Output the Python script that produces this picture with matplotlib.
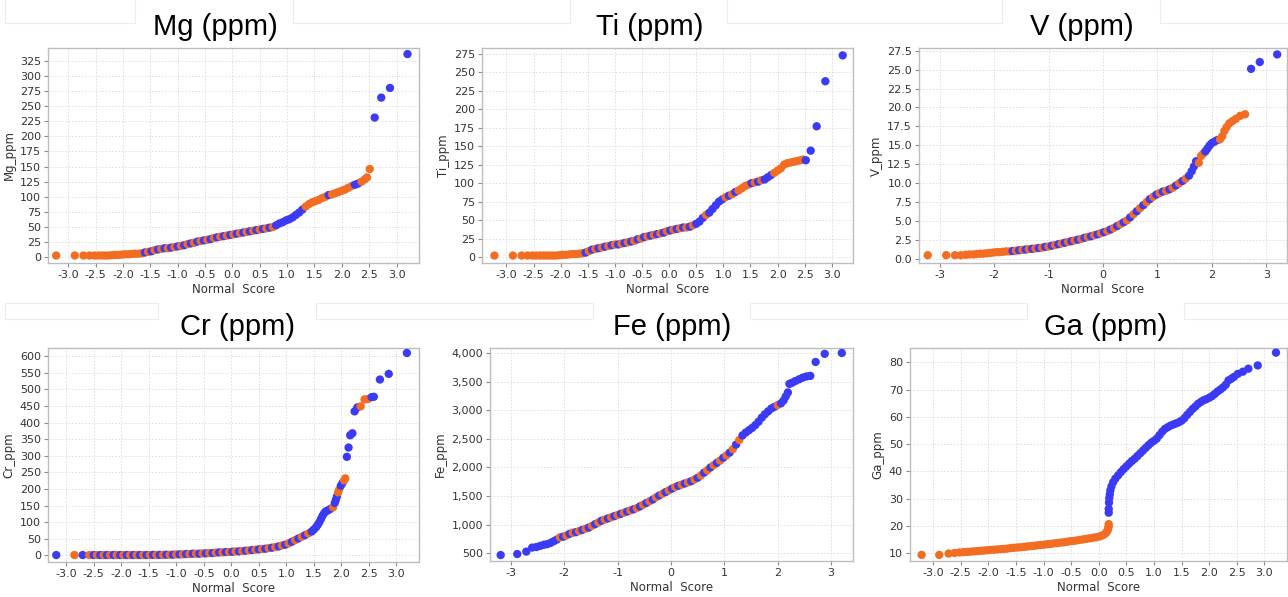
import matplotlib.pyplot as plt
from matplotlib.ticker import MultipleLocator, FormatStrFormatter, StrMethodFormatter
from matplotlib.patches import Rectangle

plt.rcParams['axes.unicode_minus'] = False
plt.rcParams['font.family'] = 'DejaVu Sans'

ORANGE = '#f26d21'
BLUE = '#3b3bf5'

# ---------- data (normal score, ppm, group o/b) ----------
mg_ns = [-3.22, -2.88, -2.72, -2.61, -2.52, -2.45, -2.38, -2.32, -2.26, -2.20,
         -2.14, -2.08, -2.02, -1.96, -1.90, -1.84, -1.78, -1.72, -1.66, -1.60,
         -1.54, -1.48, -1.42, -1.36, -1.30, -1.24, -1.18, -1.12, -1.06, -1.00,
         -0.94, -0.88, -0.82, -0.76, -0.70, -0.64, -0.58, -0.52, -0.46, -0.40,
         -0.34, -0.28, -0.22, -0.16, -0.10, -0.04, 0.02, 0.08, 0.14, 0.20,
         0.26, 0.32, 0.38, 0.44, 0.50, 0.56, 0.62, 0.68, 0.74, 0.80,
         0.86, 0.92, 0.98, 1.04, 1.10, 1.16, 1.22, 1.28, 1.34, 1.40,
         1.46, 1.52, 1.58, 1.64, 1.70, 1.76, 1.82, 1.88, 1.94, 2.00,
         2.06, 2.12, 2.18, 2.24, 2.30, 2.36, 2.42, 2.46, 2.51, 2.60,
         2.72, 2.88, 3.20]
mg_val = [3, 3, 3, 3, 3, 3, 3, 3, 3, 3.5,
          4, 4, 4.5, 5, 5, 5.5, 6, 6, 6.5, 8,
          9, 10, 12, 13, 14, 15, 15, 16, 17, 18,
          19, 20, 22, 23, 24, 26, 27, 28, 29, 30,
          32, 33, 34, 35, 36, 37, 38, 39, 40, 41,
          42, 43, 44, 45, 46, 47, 48, 49, 50, 53,
          56, 58, 61, 63, 66, 70, 74, 79, 84, 88,
          91, 93, 95, 98, 100, 103, 104, 106, 108, 110,
          112, 115, 118, 120, 122, 125, 129, 132, 146, 231,
          264, 280, 336]
mg_grp = "o" * 19 + "bo" * 20 + "b" * 9 + "o" * 7 + "b" + "o" * 7 + "bb" + "oooo" + "bbbb"

ti_ns = [-3.22, -2.88, -2.72, -2.61, -2.52, -2.45, -2.38, -2.32, -2.26, -2.20,
         -2.14, -2.08, -2.02, -1.96, -1.90, -1.84, -1.78, -1.72, -1.66,
         -1.60, -1.54, -1.48, -1.42, -1.36, -1.30, -1.24, -1.18, -1.12, -1.06,
         -1.00, -0.94, -0.88, -0.82, -0.76, -0.70, -0.64, -0.58, -0.52, -0.46,
         -0.40, -0.34, -0.28, -0.22, -0.16, -0.10, -0.04, 0.02, 0.08, 0.14,
         0.20, 0.26, 0.32, 0.38, 0.44, 0.50,
         0.56, 0.62, 0.68, 0.74, 0.80, 0.86, 0.92, 0.98,
         1.04, 1.10, 1.16, 1.22, 1.28, 1.34, 1.40, 1.46,
         1.52, 1.58, 1.64, 1.70, 1.76, 1.82, 1.88, 1.94,
         2.00, 2.06, 2.12, 2.18, 2.24, 2.30, 2.36, 2.42,
         2.47, 2.52, 2.61, 2.72, 2.88, 3.20]
ti_val = [2, 2, 2, 2, 2, 2, 2, 2, 2, 2,
          2, 2, 2.5, 3, 3, 3.5, 4, 4, 4.5,
          5, 6, 8, 10, 11, 12, 13, 14, 15, 16,
          17, 17, 18, 19, 20, 21, 22, 24, 25, 27,
          28, 29, 30, 31, 32, 33, 35, 36, 37, 38,
          39, 40, 40, 41, 43, 45,
          48, 53, 57, 60, 65, 70, 75, 78,
          81, 83, 85, 88, 90, 93, 96, 98,
          100, 101, 102, 104, 105, 108, 111, 114,
          117, 120, 125, 127, 128, 129, 130, 131,
          132, 131, 144, 177, 238, 273]
ti_grp = "o" * 19 + "ob" * 18 + "bbobbbbb" + "oboboooo" + "bobobbbo" + "o" * 8 + "obbbbb"

v_ns = [-3.22, -2.88, -2.72, -2.61, -2.52, -2.45, -2.38, -2.32, -2.26, -2.20,
        -2.14, -2.08, -2.02, -1.96, -1.90, -1.84, -1.78, -1.72,
        -1.66, -1.60, -1.54, -1.48, -1.42, -1.36, -1.30, -1.24, -1.18, -1.12,
        -1.06, -1.00, -0.94, -0.88, -0.82, -0.76, -0.70, -0.64, -0.58, -0.52,
        -0.46, -0.40, -0.34, -0.28, -0.22, -0.16, -0.10, -0.04, 0.02, 0.08,
        0.14, 0.20, 0.26, 0.32, 0.38, 0.44, 0.50, 0.56, 0.62, 0.68,
        0.74, 0.80, 0.86, 0.92, 0.98, 1.04, 1.10, 1.16, 1.22, 1.28,
        1.34, 1.40, 1.46, 1.52, 1.58,
        1.63, 1.67, 1.71, 1.76, 1.80, 1.84, 1.88, 1.92, 1.96, 2.00,
        2.05, 2.10, 2.15, 2.19, 2.23, 2.27, 2.32, 2.38, 2.44, 2.52,
        2.61, 2.72, 2.88, 3.20]
v_val = [0.5, 0.5, 0.5, 0.5, 0.55, 0.6, 0.6, 0.65, 0.7, 0.7,
         0.75, 0.8, 0.85, 0.9, 0.9, 0.95, 1.0, 1.0,
         1.05, 1.1, 1.15, 1.2, 1.25, 1.3, 1.35, 1.4, 1.45, 1.5,
         1.6, 1.65, 1.75, 1.85, 1.95, 2.05, 2.15, 2.25, 2.35, 2.45,
         2.55, 2.65, 2.8, 2.9, 3.0, 3.15, 3.25, 3.4, 3.55, 3.7,
         3.9, 4.1, 4.35, 4.6, 4.85, 5.1, 5.5, 5.9, 6.3, 6.7,
         7.1, 7.5, 7.9, 8.2, 8.5, 8.7, 8.9, 9.0, 9.2, 9.4,
         9.7, 10.0, 10.3, 10.6, 11.0,
         11.6, 12.2, 12.9, 12.7, 13.6, 13.9, 14.2, 14.6, 15.0, 15.3,
         15.5, 15.7, 15.8, 16.2, 16.9, 17.4, 17.9, 18.2, 18.5, 18.9,
         19.1, 25.1, 26.0, 27.0]
v_grp = "o" * 18 + "bo" * 27 + "b" + "bbb" + "ooo" + "b" * 6 + "o" * 9 + "bbb"

cr_ns = [-3.18, -2.85, -2.70, -2.58,
         -2.50, -2.44, -2.38, -2.32, -2.26, -2.20, -2.14, -2.08, -2.02, -1.96,
         -1.90, -1.84, -1.78, -1.72, -1.66, -1.60, -1.54, -1.48, -1.42, -1.36,
         -1.30, -1.24, -1.18, -1.12, -1.06, -1.00, -0.94, -0.88, -0.82, -0.76,
         -0.70, -0.64, -0.58, -0.52, -0.46, -0.40, -0.34, -0.28, -0.22, -0.16,
         -0.10, -0.04, 0.02, 0.08, 0.14, 0.20, 0.26, 0.32, 0.38, 0.44,
         0.50, 0.56, 0.62, 0.68, 0.74, 0.80, 0.86, 0.92, 0.98, 1.04,
         1.10, 1.16, 1.22, 1.28, 1.34, 1.40, 1.46,
         1.50, 1.54, 1.57, 1.60, 1.63, 1.66, 1.69, 1.72, 1.76, 1.80,
         1.85, 1.88, 1.90, 1.92, 1.94, 1.96, 1.99, 2.02, 2.05, 2.07,
         2.10, 2.13, 2.16, 2.20, 2.24, 2.29, 2.35, 2.42, 2.48, 2.55,
         2.59, 2.70, 2.86, 3.19]
cr_val = [1, 1, 1, 1,
          1, 1, 1, 1, 1, 1, 1, 1, 1, 1,
          1, 1, 1, 1, 1, 1, 1, 1, 1.5, 1.5,
          1.5, 1.5, 2, 2, 2, 3, 3, 3, 4, 4,
          5, 5, 5, 6, 6, 7, 7, 8, 9, 9,
          10, 10, 11, 12, 12, 13, 14, 15, 16, 17,
          18, 19, 20, 22, 23, 25, 27, 30, 32, 36,
          41, 46, 51, 56, 61, 66, 72,
          78, 85, 92, 100, 110, 120, 128, 133, 136, 140,
          145, 158, 168, 178, 190, 198, 210, 218, 226, 232,
          297, 325, 362, 368, 434, 446, 449, 470, 471, 477,
          478, 530, 547, 610]
cr_grp = "bobo" + "bo" * 33 + "b" + "b" * 10 + "obbboobboo" + "bbbbbbooob" + "bbbb"

fe_ns = [-3.19, -2.88, -2.71, -2.60, -2.52, -2.45, -2.38, -2.32, -2.26, -2.20, -2.14,
         -2.08, -2.02, -1.96, -1.90, -1.84, -1.78, -1.72, -1.66, -1.60, -1.54,
         -1.48, -1.42, -1.36, -1.30, -1.24, -1.18, -1.12, -1.06, -1.00, -0.94,
         -0.88, -0.82, -0.76, -0.70, -0.64, -0.58, -0.52, -0.46, -0.40, -0.34,
         -0.28, -0.22, -0.16, -0.10, -0.04, 0.02, 0.08, 0.14, 0.20, 0.26,
         0.32, 0.38, 0.44, 0.50, 0.56, 0.62, 0.68, 0.74, 0.80, 0.86,
         0.92, 0.98, 1.04, 1.10, 1.16, 1.22, 1.28, 1.34,
         1.40, 1.46, 1.52, 1.58, 1.64, 1.70, 1.76, 1.82, 1.88, 1.94,
         2.00, 2.06, 2.11, 2.15, 2.19, 2.22, 2.27, 2.33, 2.40, 2.47,
         2.54, 2.61, 2.71, 2.88, 3.20]
fe_val = [470, 488, 530, 600, 610, 630, 650, 660, 680, 710, 740,
          780, 790, 810, 840, 860, 870, 890, 910, 930, 950,
          980, 1010, 1040, 1070, 1090, 1110, 1130, 1150, 1170, 1190,
          1210, 1230, 1250, 1270, 1290, 1320, 1350, 1380, 1410, 1440,
          1480, 1510, 1540, 1570, 1600, 1630, 1660, 1680, 1700, 1720,
          1740, 1760, 1790, 1820, 1860, 1910, 1950, 2000, 2040, 2080,
          2120, 2170, 2210, 2260, 2320, 2400, 2480, 2560,
          2610, 2650, 2690, 2740, 2800, 2870, 2930, 2980, 3030, 3060,
          3090, 3120, 3170, 3240, 3310, 3460, 3480, 3510, 3540, 3570,
          3590, 3600, 3843, 3985, 4000]
fe_grp = "b" * 11 + "ob" * 29 + "b" * 10 + "o" + "b" * 14

ga_ns = [-3.21, -2.89, -2.72, -2.61, -2.52, -2.45, -2.38, -2.32, -2.26, -2.20,
         -2.14, -2.08, -2.02, -1.96, -1.90, -1.84, -1.78, -1.72, -1.66, -1.60,
         -1.54, -1.48, -1.42, -1.36, -1.30, -1.24, -1.18, -1.12, -1.06, -1.00,
         -0.94, -0.88, -0.82, -0.76, -0.70, -0.64, -0.58, -0.52, -0.46, -0.40,
         -0.34, -0.28, -0.22, -0.16, -0.10, -0.04, 0.02, 0.07, 0.11, 0.14,
         0.16, 0.17, 0.18, 0.18,
         0.18, 0.18, 0.185, 0.19, 0.20, 0.21, 0.23, 0.26, 0.30, 0.35,
         0.40, 0.45, 0.50, 0.55, 0.60, 0.65, 0.70, 0.75, 0.80, 0.85,
         0.90, 0.95, 1.00, 1.05, 1.10, 1.15, 1.20, 1.25, 1.30, 1.35,
         1.40, 1.45, 1.50, 1.55, 1.60, 1.65, 1.70, 1.75, 1.80, 1.85,
         1.90, 1.95, 2.00, 2.05, 2.10, 2.15, 2.20, 2.25, 2.30, 2.35,
         2.40, 2.45, 2.52, 2.61, 2.71, 2.88, 3.21]
ga_val = [9.3, 9.3, 9.8, 10.0, 10.2, 10.3, 10.4, 10.5, 10.6, 10.7,
          10.8, 10.9, 11.0, 11.1, 11.2, 11.3, 11.4, 11.5, 11.6, 11.8,
          11.9, 12.0, 12.1, 12.2, 12.4, 12.5, 12.6, 12.8, 12.9, 13.0,
          13.2, 13.3, 13.5, 13.6, 13.8, 13.9, 14.1, 14.3, 14.4, 14.6,
          14.8, 15.0, 15.2, 15.4, 15.6, 15.8, 16.1, 16.5, 17.0, 17.6,
          18.3, 19.0, 19.8, 20.6,
          24.8, 26.2, 28.5, 30.2, 31.5, 33.0, 34.5, 36.0, 37.3, 38.5,
          39.7, 40.8, 41.8, 42.8, 43.8, 44.6, 45.6, 46.6, 47.6, 48.6,
          49.6, 50.5, 51.2, 52.0, 53.3, 54.6, 55.6, 56.2, 56.8, 57.2,
          57.6, 58.0, 58.6, 59.5, 60.7, 61.8, 62.9, 63.8, 64.8, 65.5,
          66.1, 66.5, 67.0, 67.6, 68.4, 69.3, 70.0, 70.8, 71.8, 73.4,
          74.0, 74.7, 75.8, 76.6, 77.7, 78.9, 83.6]
ga_grp = "o" * 54 + "b" * 57

# ---------- layout (pixel boxes of the original screenshot) ----------
W, H = 1288, 597

panels = [
    # label, x, y, groups, axes box (l, t, r, b), xlim, ylim, xstep, xfmt, ystep, yfmt, title centre
    ("Mg", mg_ns, mg_val, mg_grp, (48, 48, 419, 263), (-3.37, 3.41), (-9.4, 346), 0.5, '%.1f', 25, '{x:.0f}', (215, 27)),
    ("Ti", ti_ns, ti_val, ti_grp, (482, 48, 853, 263), (-3.45, 3.39), (-8.1, 283), 0.5, '%.1f', 25, '{x:.0f}', (650, 27)),
    ("V", v_ns, v_val, v_grp, (919, 48, 1287, 263), (-3.38, 3.38), (-0.53, 27.85), 1, '%.0f', 2.5, '{x:.1f}', (1082, 27)),
    ("Cr", cr_ns, cr_val, cr_grp, (48, 348, 419, 562), (-3.33, 3.41), (-20, 625), 0.5, '%.1f', 50, '{x:.0f}', (237, 327)),
    ("Fe", fe_ns, fe_val, fe_grp, (490, 348, 853, 561), (-3.39, 3.41), (366, 4087), 1, '%.0f', 500, '{x:,.0f}', (672, 327)),
    ("Ga", ga_ns, ga_val, ga_grp, (910, 348, 1287, 561), (-3.42, 3.41), (7.05, 85.3), 0.5, '%.1f', 10, '{x:.0f}', (1106, 327)),
]

fig = plt.figure(figsize=(W / 100, H / 100), dpi=100)
fig.patch.set_facecolor('white')

# faint slide text-box outlines around the titles
for l, t, r, b in [(5, -5, 135, 23), (293, -5, 570, 23), (727, -5, 1002, 23), (1160, -5, 1295, 23),
                   (5, 303, 158, 319), (316, 303, 593, 319), (750, 303, 1027, 319), (1184, 303, 1295, 319)]:
    fig.patches.append(Rectangle((l / W, 1 - b / H), (r - l) / W, (b - t) / H,
                                 transform=fig.transFigure, fill=False,
                                 edgecolor='#ececec', linewidth=0.8))

for (name, xs, ys, grp, box, xlim, ylim, xstep, xfmt, ystep, yfmt, tpos) in panels:
    l, t, r, b = box
    ax = fig.add_axes([l / W, 1 - b / H, (r - l) / W, (b - t) / H])
    colors = [ORANGE if g == 'o' else BLUE for x, y, g in zip(xs, ys, grp, strict=True)]
    ax.scatter(xs, ys, c=colors, s=36, linewidths=0, zorder=3)

    ax.set_xlim(*xlim)
    ax.set_ylim(*ylim)
    ax.xaxis.set_major_locator(MultipleLocator(xstep))
    ax.xaxis.set_major_formatter(FormatStrFormatter(xfmt))
    ax.yaxis.set_major_locator(MultipleLocator(ystep))
    ax.yaxis.set_major_formatter(StrMethodFormatter(yfmt))

    ax.grid(True, color='#dadada', linestyle=(0, (2, 2)), linewidth=0.6)
    ax.set_axisbelow(True)
    for sp in ax.spines.values():
        sp.set_color('#bdbdbd')
        sp.set_linewidth(1.0)
    ax.tick_params(length=3, width=0.8, color='#8a8a8a', labelsize=8,
                   labelcolor='#333333', pad=2)
    ax.set_xlabel('Normal  Score', fontsize=8.5, color='#333333', labelpad=2)
    ax.set_ylabel(f'{name}_ppm', fontsize=8.5, color='#333333', labelpad=3)

    fig.text(tpos[0] / W, 1 - tpos[1] / H, f'{name} (ppm)', fontsize=21,
             family='Liberation Sans', ha='center', va='center', color='black')

fig.savefig('out.png', dpi=100, facecolor='white')
